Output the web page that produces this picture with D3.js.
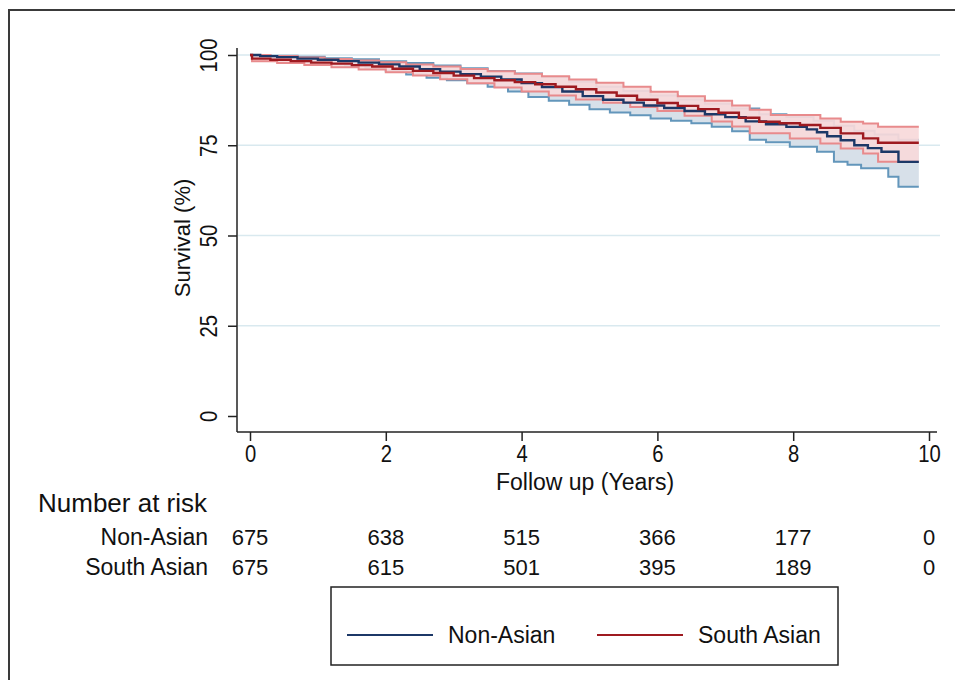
<!DOCTYPE html>
<html>
<head>
<meta charset="utf-8">
<script src="https://cdn.jsdelivr.net/npm/d3@7"></script>
<style>
  body { margin: 0; background: #fff; }
  text { font-family: "Liberation Sans", Arial, sans-serif; fill: #111; }
</style>
</head>
<body>
<svg width="955" height="680"></svg>
<script>
// Kaplan-Meier survival, [years, survival %] step points
var naEst = [[0,100],[0.15,99.7],[0.4,99.4],[0.7,99.0],[1.0,98.7],[1.3,98.3],[1.6,97.9],[1.9,97.4],[2.2,96.8],[2.5,96.1],[2.8,95.4],[3.1,94.7],[3.4,94.0],[3.7,93.2],[4.0,92.2],[4.3,91.1],[4.6,89.9],[4.9,88.6],[5.2,87.6],[5.5,86.8],[5.8,86.0],[6.1,85.3],[6.4,84.5],[6.7,83.6],[7.0,82.8],[7.3,81.6],[7.6,80.8],[7.9,80.1],[8.2,79.4],[8.35,78.6],[8.5,77.5],[8.7,76.4],[8.9,75.0],[9.1,74.2],[9.3,73.2],[9.55,70.4]]
var naHi = [[0,100],[0.3,99.8],[0.7,99.5],[1.1,99.1],[1.5,98.8],[1.9,98.3],[2.3,97.8],[2.7,97.1],[3.1,96.3],[3.5,95.6],[3.9,94.9],[4.3,93.9],[4.7,92.6],[5.1,91.2],[5.5,90.0],[5.9,88.8],[6.3,87.7],[6.7,86.5],[7.1,85.2],[7.5,83.6],[7.9,82.8],[8.3,81.8],[8.6,80.4],[8.9,79.0],[9.2,78.0],[9.55,76.5]]
var naLo = [[0,100],[0.05,99.4],[0.2,99.1],[0.5,98.6],[0.8,98.1],[1.1,97.6],[1.4,97.1],[1.7,96.5],[2.0,95.5],[2.3,94.6],[2.6,93.7],[2.9,93.0],[3.2,92.2],[3.5,91.2],[3.8,89.9],[4.1,88.4],[4.4,87.3],[4.7,86.2],[5.0,85.0],[5.3,84.1],[5.6,83.3],[5.9,82.4],[6.2,81.8],[6.5,81.1],[6.8,80.1],[7.1,78.9],[7.36,76.5],[7.6,75.8],[7.95,74.6],[8.35,73.2],[8.6,70.4],[8.8,69.6],[9.0,68.6],[9.4,66.3],[9.55,63.5]]

var saEst = [[0,100],[0.03,99.0],[0.3,98.7],[0.6,98.3],[0.9,97.9],[1.2,97.6],[1.5,97.2],[1.8,96.8],[2.1,96.2],[2.4,95.6],[2.7,95.0],[3.0,94.3],[3.3,93.6],[3.6,93.0],[3.9,92.5],[4.2,91.9],[4.5,91.2],[4.8,90.5],[5.1,89.6],[5.4,88.7],[5.7,87.6],[6.0,86.7],[6.3,85.9],[6.6,85.0],[6.9,84.0],[7.2,82.6],[7.5,81.5],[7.8,81.1],[8.1,80.6],[8.4,79.8],[8.7,78.3],[9.03,76.9],[9.25,75.7]]
var saHi = [[0,100],[0.3,99.7],[0.7,99.3],[1.1,98.9],[1.5,98.5],[1.9,98.0],[2.3,97.4],[2.7,96.8],[3.1,96.1],[3.5,95.5],[3.9,94.8],[4.3,94.1],[4.7,93.2],[5.1,92.3],[5.5,91.2],[5.9,89.8],[6.3,88.6],[6.7,87.3],[7.1,86.0],[7.36,84.8],[7.67,83.4],[8.4,82.4],[8.7,81.5],[9.03,81.0],[9.25,80.1]]
var saLo = [[0,100],[0.03,98.3],[0.4,97.8],[0.8,97.2],[1.2,96.6],[1.6,96.0],[2.0,95.2],[2.4,94.3],[2.8,93.3],[3.2,92.2],[3.6,91.0],[4.0,89.9],[4.4,88.8],[4.8,87.7],[5.2,86.8],[5.6,85.6],[6.0,84.5],[6.4,83.2],[6.8,81.6],[7.1,80.2],[7.36,78.3],[7.95,76.9],[8.4,75.5],[8.7,74.1],[9.03,72.7],[9.25,70.4]]

var lastTime = 9.85
var yTicks = [0, 25, 50, 75, 100]
var xTicks = [0, 2, 4, 6, 8, 10]
var groups = ['Non-Asian', 'South Asian']
var riskNonAsian = [675, 638, 515, 366, 177, 0]
var riskSouthAsian = [675, 615, 501, 395, 189, 0]

var navy = '#1c3867', darkRed = '#9e1a20'
var blueCI = '#6396bb', blueFill = '#d7e0e9'
var redCI = '#e88a8c', redFill = '#f7d9da'

var svg = d3.select('svg')
var x = d3.scaleLinear().domain([0, 10]).range([250, 929])
var y = d3.scaleLinear().domain([0, 100]).range([416, 55])

// outer frame
svg.append('path').attr('d', 'M9,680 V10 H955').attr('fill', 'none')
    .attr('stroke', '#3a3a3a').attr('stroke-width', 2)

// grid
svg.append('g').selectAll('line').data(yTicks.slice(1)).join('line')
    .attr('x1', 238).attr('x2', 940)
    .attr('y1', d => y(d)).attr('y2', d => y(d))
    .attr('stroke', '#d9e9ef').attr('stroke-width', 1.5)

// extend series to last follow-up
function ext(arr) { return arr.concat([[lastTime, arr[arr.length - 1][1]]]) }
function valueAt(arr, t) {
    var v = arr[0][1]
    arr.forEach(function(p) { if (p[0] <= t) v = p[1] })
    return v
}
function band(lo, hi) {
    var times = Array.from(new Set(lo.map(d => d[0]).concat(hi.map(d => d[0])))).sort((a, b) => a - b)
    times.push(lastTime)
    return times.map(t => ({t: t, lo: valueAt(lo, t), hi: valueAt(hi, t)}))
}

var line = d3.line().x(d => x(d[0])).y(d => y(d[1])).curve(d3.curveStepAfter)
var area = d3.area().x(d => x(d.t)).y0(d => y(d.lo)).y1(d => y(d.hi)).curve(d3.curveStepAfter)

var plot = svg.append('g')
plot.append('path').datum(band(naLo, naHi)).attr('d', area).attr('fill', blueFill)
plot.append('path').datum(ext(naHi)).attr('d', line).attr('fill', 'none').attr('stroke', blueCI).attr('stroke-width', 2)
plot.append('path').datum(ext(naLo)).attr('d', line).attr('fill', 'none').attr('stroke', blueCI).attr('stroke-width', 2)
plot.append('path').datum(band(saLo, saHi)).attr('d', area).attr('fill', redFill).attr('fill-opacity', 0.92)
plot.append('path').datum(ext(saHi)).attr('d', line).attr('fill', 'none').attr('stroke', redCI).attr('stroke-width', 2)
plot.append('path').datum(ext(saLo)).attr('d', line).attr('fill', 'none').attr('stroke', redCI).attr('stroke-width', 2)
plot.append('path').datum(ext(naEst)).attr('d', line).attr('fill', 'none').attr('stroke', navy).attr('stroke-width', 2.4)
plot.append('path').datum(ext(saEst)).attr('d', line).attr('fill', 'none').attr('stroke', darkRed).attr('stroke-width', 2.4)

// axes
var yAxis = svg.append('g').attr('transform', 'translate(237,0)')
    .call(d3.axisLeft(y).tickValues(yTicks).tickSize(9).tickSizeOuter(0))
yAxis.select('.domain').remove()
yAxis.selectAll('line').attr('stroke', '#222').attr('stroke-width', 1.5)
yAxis.selectAll('text').attr('font-size', 23).attr('fill', '#111')
    .attr('x', 0).attr('y', 0).attr('dy', '0.35em').attr('text-anchor', 'middle')
    .attr('transform', 'translate(-28,0) rotate(-90) scale(0.88,1)')
svg.append('line').attr('x1', 237).attr('x2', 237).attr('y1', 48).attr('y2', 432)
    .attr('stroke', '#222').attr('stroke-width', 1.5)

var xAxis = svg.append('g').attr('transform', 'translate(0,432)')
    .call(d3.axisBottom(x).tickValues(xTicks).tickSize(9).tickSizeOuter(0))
xAxis.select('.domain').remove()
xAxis.selectAll('line').attr('stroke', '#222').attr('stroke-width', 1.5)
xAxis.selectAll('text').attr('font-size', 23).attr('fill', '#111').attr('y', 14)
    .attr('transform', 'scale(0.88,1)')
svg.append('line').attr('x1', 237).attr('x2', 937).attr('y1', 432).attr('y2', 432)
    .attr('stroke', '#222').attr('stroke-width', 1.5)

svg.append('text').text('Survival (%)').attr('font-size', 22).attr('text-anchor', 'middle')
    .attr('transform', 'translate(190,238) rotate(-90)')
svg.append('text').text('Follow up (Years)').attr('font-size', 23).attr('text-anchor', 'middle')
    .attr('x', 585).attr('y', 490)

// number at risk table
svg.append('text').text('Number at risk').attr('font-size', 26).attr('x', 38).attr('y', 512)
var rows = [riskNonAsian, riskSouthAsian]
rows.forEach(function(r, i) {
    var ry = 545 + i * 30
    svg.append('text').text(groups[i]).attr('font-size', 23).attr('text-anchor', 'end')
        .attr('x', 208).attr('y', ry)
    svg.append('g').selectAll('text').data(r).join('text')
        .text(d => d).attr('font-size', 22).attr('text-anchor', 'middle')
        .attr('x', (d, j) => x(xTicks[j])).attr('y', ry)
})

// legend
var legend = svg.append('g')
legend.append('rect').attr('x', 331).attr('y', 587).attr('width', 507).attr('height', 78)
    .attr('fill', 'none').attr('stroke', '#222').attr('stroke-width', 1.5)
var legX = [347, 597]
var legColors = [navy, darkRed]
groups.forEach(function(g, i) {
    legend.append('line').attr('x1', legX[i]).attr('x2', legX[i] + 86).attr('y1', 635).attr('y2', 635)
        .attr('stroke', legColors[i]).attr('stroke-width', 2)
    legend.append('text').text(g).attr('font-size', 23).attr('x', legX[i] + 101).attr('y', 643)
})
</script>
</body>
</html>
